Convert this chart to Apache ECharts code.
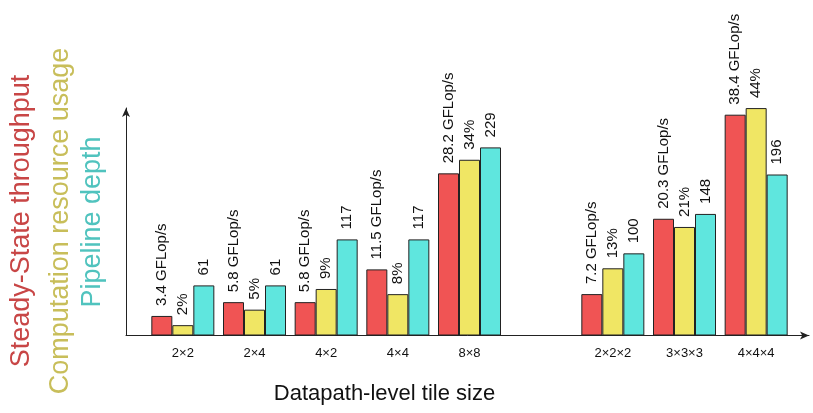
<!DOCTYPE html>
<html>
<head>
<meta charset="utf-8">
<script src="https://cdn.jsdelivr.net/npm/echarts@6/dist/echarts.min.js"></script>
<style>
html,body{margin:0;padding:0;background:#fff;}
#c{width:813px;height:413px;}
</style>
</head>
<body>
<div id="c"></div>
<script>
const categories = ['2×2', '2×4', '4×2', '4×4', '8×8', '', '2×2×2', '3×3×3', '4×4×4'];
const throughput = [3.4, 5.8, 5.8, 11.5, 28.2, null, 7.2, 20.3, 38.4];
const usage = [2, 5, 9, 8, 34, null, 13, 21, 44];
const depth = [61, 61, 117, 117, 229, null, 100, 148, 196];
const seriesNames = ['Steady-State throughput', 'Computation resource usage', 'Pipeline depth'];
const xTitle = 'Datapath-level tile size';

const FONT = '"Liberation Sans", Arial, sans-serif';
const barColors = ['#F05454', '#F0E664', '#5FE6DE'];
const titleColors = ['#C84646', '#C8BE5A', '#50C3BE'];

const chart = echarts.init(document.getElementById('c'), null, {renderer: 'canvas'});

function labelCfg(fmt) {
  return {
    show: true, position: 'top', rotate: 90, align: 'left', verticalAlign: 'middle',
    distance: 10, color: '#111', fontFamily: FONT, fontSize: 15,
    formatter: p => (p.value == null ? '' : fmt(p.value))
  };
}

const option = {
  animation: false,
  backgroundColor: '#fff',
  grid: [
    {left: 147, right: 21, top: 105.5, bottom: 77.5},
    {left: 126, right: 4, top: 108, bottom: 77.5}
  ],
  xAxis: [
    {type: 'category', gridIndex: 0, data: categories,
     axisLine: {show: false}, axisTick: {show: false},
     axisLabel: {color: '#111', fontFamily: FONT, fontSize: 13, margin: 11}},
    {type: 'value', gridIndex: 1, min: 0, max: 1,
     axisLine: {show: true, lineStyle: {color: '#222', width: 1}, symbol: ['none', 'arrow'], symbolSize: [6, 9]},
     axisTick: {show: false}, axisLabel: {show: false}, splitLine: {show: false}}
  ],
  yAxis: [
    {type: 'value', gridIndex: 0, min: 0, max: 40, show: false},
    {type: 'value', gridIndex: 0, min: 0, max: 44.5, show: false},
    {type: 'value', gridIndex: 0, min: 0, max: 280, show: false},
    {type: 'value', gridIndex: 1, min: 0, max: 1,
     axisLine: {show: true, lineStyle: {color: '#222', width: 1}, symbol: ['none', 'arrow'], symbolSize: [6, 9]},
     axisTick: {show: false}, axisLabel: {show: false}, splitLine: {show: false}}
  ],
  series: [
    {name: seriesNames[0], type: 'bar', xAxisIndex: 0, yAxisIndex: 0, data: throughput,
     barWidth: 21, barGap: '0%',
     itemStyle: {color: barColors[0], borderColor: '#222', borderWidth: 1},
     label: labelCfg(v => v.toFixed(1) + ' GFLop/s')},
    {name: seriesNames[1], type: 'bar', xAxisIndex: 0, yAxisIndex: 1, data: usage,
     barWidth: 21, barGap: '0%',
     itemStyle: {color: barColors[1], borderColor: '#222', borderWidth: 1},
     label: labelCfg(v => v + '%')},
    {name: seriesNames[2], type: 'bar', xAxisIndex: 0, yAxisIndex: 2, data: depth,
     barWidth: 21, barGap: '0%',
     itemStyle: {color: barColors[2], borderColor: '#222', borderWidth: 1},
     label: labelCfg(v => String(v))}
  ],
  graphic: [
    {type: 'text', x: 22, y: 221, rotation: Math.PI / 2,
     style: {text: seriesNames[0], fill: titleColors[0], font: '27px ' + FONT, textAlign: 'center', textVerticalAlign: 'middle'}},
    {type: 'text', x: 61, y: 221, rotation: Math.PI / 2,
     style: {text: seriesNames[1], fill: titleColors[1], font: '27px ' + FONT, textAlign: 'center', textVerticalAlign: 'middle'}},
    {type: 'text', x: 93, y: 222, rotation: Math.PI / 2,
     style: {text: seriesNames[2], fill: titleColors[2], font: '27px ' + FONT, textAlign: 'center', textVerticalAlign: 'middle'}},
    {type: 'text', x: 384.5, y: 394,
     style: {text: xTitle, fill: '#111', font: '22px ' + FONT, textAlign: 'center', textVerticalAlign: 'middle'}}
  ]
};
chart.setOption(option);
</script>
</body>
</html>
